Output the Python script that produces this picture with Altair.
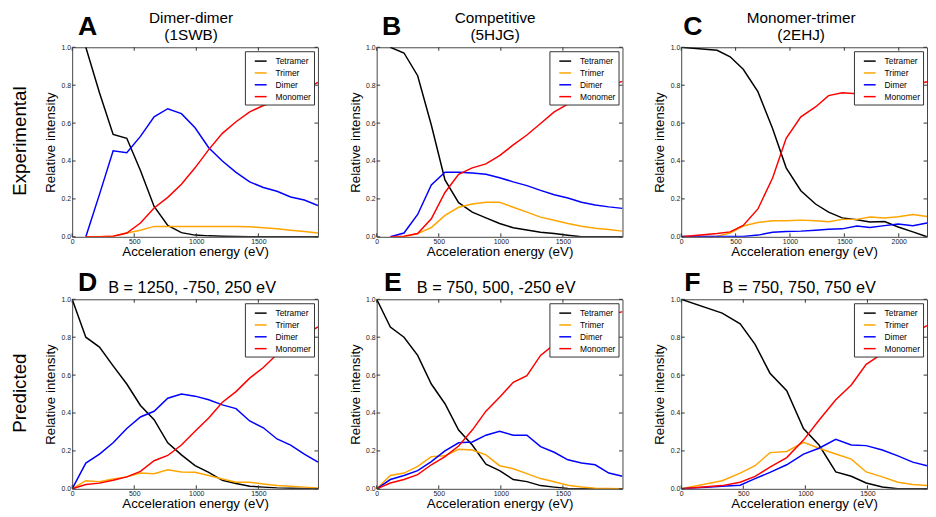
import altair as alt
import pandas as pd

# ---------------- data ----------------
SPECIES = ["Tetramer", "Trimer", "Dimer", "Monomer"]
COLORS = ["#000000", "#FFA500", "#0000FF", "#FF0000"]

LETTERS = ["A", "B", "C", "D", "E", "F"]
TITLES = [["Dimer-dimer", "(1SWB)"], ["Competitive", "(5HJG)"], ["Monomer-trimer", "(2EHJ)"],
          ["B = 1250, -750, 250 eV"], ["B = 750, 500, -250 eV"], ["B = 750, 750, 750 eV"]]
ROW_LABELS = ["Experimental", "Predicted"]
X_TITLE = "Acceleration energy (eV)"
Y_TITLE = "Relative intensity"

X_TICKS = [0, 500, 1000, 1500]
X_TICKS_C = [0, 500, 1000, 1500, 2000]
Y_TICKS = [0.0, 0.2, 0.4, 0.6, 0.8, 1.0]
X_MAX = [1980, 1980, 2260, 1980, 1980, 1980]

A_energy = [110, 220, 330, 440, 550, 660, 770, 880, 990, 1100, 1210, 1320, 1430, 1540, 1650, 1760, 1870, 1980]
A_tetramer = [1.0, 0.76, 0.54, 0.52, 0.35, 0.16, 0.06, 0.022, 0.009, 0.005, 0.003, 0.002, 0.001, 0.0, 0.0, 0.0, 0.0, 0.0]
A_trimer = [0.0, 0.0, 0.003, 0.02, 0.035, 0.055, 0.055, 0.054, 0.054, 0.054, 0.054, 0.054, 0.053, 0.048, 0.043, 0.035, 0.028, 0.02]
A_dimer = [0.0, 0.224, 0.454, 0.444, 0.53, 0.633, 0.676, 0.65, 0.575, 0.47, 0.40, 0.34, 0.29, 0.26, 0.24, 0.21, 0.194, 0.165]
A_monomer = [0.0, 0.0, 0.003, 0.02, 0.073, 0.152, 0.208, 0.277, 0.364, 0.46, 0.546, 0.607, 0.659, 0.693, 0.716, 0.745, 0.78, 0.815]

B_energy = [110, 220, 330, 440, 550, 660, 770, 880, 990, 1100, 1210, 1320, 1430, 1540, 1650, 1760, 1870, 1980]
B_tetramer = [1.0, 0.97, 0.85, 0.59, 0.30, 0.18, 0.13, 0.10, 0.07, 0.048, 0.036, 0.024, 0.017, 0.008, 0.0, 0.0, 0.0, 0.0]
B_trimer = [0.0, 0.0, 0.017, 0.049, 0.113, 0.156, 0.173, 0.182, 0.182, 0.156, 0.13, 0.104, 0.087, 0.07, 0.056, 0.045, 0.038, 0.03]
B_dimer = [0.0, 0.02, 0.118, 0.274, 0.341, 0.341, 0.337, 0.33, 0.312, 0.29, 0.27, 0.245, 0.222, 0.205, 0.182, 0.168, 0.158, 0.15]
B_monomer = [0.0, 0.003, 0.017, 0.095, 0.234, 0.33, 0.364, 0.385, 0.428, 0.485, 0.537, 0.598, 0.659, 0.70, 0.74, 0.77, 0.80, 0.82]

C_energy = [0, 330, 450, 570, 705, 840, 965, 1100, 1235, 1355, 1480, 1615, 1735, 1870, 1995, 2130, 2260]
C_tetramer = [1.0, 0.984, 0.95, 0.884, 0.766, 0.572, 0.364, 0.243, 0.173, 0.13, 0.10, 0.09, 0.078, 0.081, 0.052, 0.026, 0.0]
C_trimer = [0.0, 0.003, 0.02, 0.057, 0.075, 0.085, 0.085, 0.088, 0.085, 0.08, 0.092, 0.092, 0.104, 0.099, 0.106, 0.118, 0.107]
C_dimer = [0.002, 0.002, 0.002, 0.002, 0.009, 0.024, 0.028, 0.03, 0.035, 0.04, 0.042, 0.057, 0.049, 0.059, 0.068, 0.059, 0.073]
C_monomer = [0.0, 0.017, 0.026, 0.06, 0.147, 0.31, 0.52, 0.633, 0.685, 0.745, 0.76, 0.755, 0.765, 0.775, 0.79, 0.80, 0.818]

D_energy = [0, 110, 220, 330, 440, 550, 660, 770, 880, 990, 1100, 1210, 1320, 1430, 1540, 1650, 1760, 1870, 1980]
D_tetramer = [1.0, 0.80, 0.748, 0.649, 0.553, 0.44, 0.365, 0.243, 0.179, 0.122, 0.087, 0.045, 0.028, 0.014, 0.009, 0.005, 0.003, 0.002, 0.001]
D_trimer = [0.0, 0.043, 0.037, 0.052, 0.063, 0.083, 0.08, 0.10, 0.089, 0.087, 0.07, 0.052, 0.035, 0.035, 0.026, 0.017, 0.014, 0.009, 0.005]
D_dimer = [0.0, 0.136, 0.183, 0.243, 0.318, 0.379, 0.409, 0.478, 0.50, 0.489, 0.47, 0.443, 0.423, 0.358, 0.322, 0.263, 0.231, 0.183, 0.141]
D_monomer = [0.0, 0.023, 0.03, 0.045, 0.063, 0.092, 0.148, 0.176, 0.231, 0.304, 0.374, 0.457, 0.513, 0.584, 0.64, 0.71, 0.76, 0.81, 0.854]

E_energy = [0, 110, 220, 330, 440, 550, 660, 770, 880, 990, 1100, 1210, 1320, 1430, 1540, 1650, 1760, 1870, 1980]
E_tetramer = [1.0, 0.854, 0.80, 0.704, 0.553, 0.449, 0.31, 0.231, 0.13, 0.096, 0.049, 0.038, 0.017, 0.009, 0.002, 0.0, 0.0, 0.0, 0.0]
E_trimer = [0.0, 0.07, 0.083, 0.118, 0.17, 0.174, 0.209, 0.205, 0.179, 0.122, 0.106, 0.08, 0.054, 0.037, 0.019, 0.01, 0.003, 0.002, 0.001]
E_dimer = [0.0, 0.049, 0.07, 0.096, 0.144, 0.20, 0.243, 0.247, 0.283, 0.304, 0.283, 0.283, 0.223, 0.193, 0.153, 0.136, 0.127, 0.083, 0.066]
E_monomer = [0.0, 0.031, 0.049, 0.075, 0.127, 0.17, 0.226, 0.31, 0.41, 0.483, 0.562, 0.597, 0.704, 0.762, 0.81, 0.86, 0.89, 0.915, 0.935]

F_energy = [0, 330, 475, 595, 715, 850, 985, 1110, 1245, 1370, 1490, 1620, 1745, 1865, 1980]
F_tetramer = [1.0, 0.927, 0.871, 0.762, 0.61, 0.518, 0.318, 0.231, 0.089, 0.066, 0.031, 0.01, 0.0, 0.0, 0.0]
F_trimer = [0.0, 0.043, 0.083, 0.122, 0.191, 0.197, 0.245, 0.214, 0.184, 0.157, 0.089, 0.063, 0.035, 0.023, 0.017]
F_dimer = [0.0, 0.014, 0.019, 0.054, 0.087, 0.127, 0.183, 0.214, 0.261, 0.231, 0.228, 0.205, 0.174, 0.141, 0.122]
F_monomer = [0.0, 0.017, 0.035, 0.066, 0.115, 0.165, 0.257, 0.362, 0.47, 0.548, 0.657, 0.713, 0.77, 0.82, 0.861]

PANELS = [
    (A_energy, [A_tetramer, A_trimer, A_dimer, A_monomer]),
    (B_energy, [B_tetramer, B_trimer, B_dimer, B_monomer]),
    (C_energy, [C_tetramer, C_trimer, C_dimer, C_monomer]),
    (D_energy, [D_tetramer, D_trimer, D_dimer, D_monomer]),
    (E_energy, [E_tetramer, E_trimer, E_dimer, E_monomer]),
    (F_energy, [F_tetramer, F_trimer, F_dimer, F_monomer]),
]

# ---------------- layout / style ----------------
W, H = 249, 192
FONT = "Liberation Sans"
FRAME = "#444444"
LETTER_DX = [6, 5.5, 2, 6, 7.5, 3]
TITLE_DX = [-4, -4.5, -3, -3, -3.5, -5]


def text_layer(txt, x, y, size, weight="normal", align="left", angle=0,
               baseline="alphabetic", line_height=None):
    props = dict(font=FONT, fontSize=size, fontWeight=weight, align=align, baseline=baseline,
                 angle=angle, color="#000000", text=txt)
    if line_height is not None:
        props["lineHeight"] = line_height
    return alt.Chart(pd.DataFrame({"k": [0]})).mark_text(**props).encode(
        x=alt.value(x), y=alt.value(y))


def panel(i):
    energy, series = PANELS[i]
    rows = []
    for sp, vals in zip(SPECIES, series):
        for e, v in zip(energy, vals):
            rows.append({"x": e, "y": v, "species": sp})
    df = pd.DataFrame(rows)

    xticks = X_TICKS_C if i == 2 else X_TICKS
    x_enc = alt.X("x:Q", scale=alt.Scale(domain=[0, X_MAX[i]], nice=False, zero=False),
                  axis=alt.Axis(values=xticks, format="d", title=X_TITLE, labelFontSize=7,
                                labelPadding=1, titleFontSize=13.5, titlePadding=-0.5,
                                labelFlush=False))
    y_enc = alt.Y("y:Q", scale=alt.Scale(domain=[0, 1], nice=False),
                  axis=alt.Axis(values=Y_TICKS, format=".1f", title=Y_TITLE, labelFontSize=7,
                                labelPadding=1.5, titleFontSize=13.5, titlePadding=3.5,
                                labelFlush=False))

    lines = alt.Chart(df).mark_line(strokeWidth=1.5, clip=True).encode(
        x=x_enc, y=y_enc,
        color=alt.Color("species:N", scale=alt.Scale(domain=SPECIES, range=COLORS),
                        legend=alt.Legend(title=None, orient="top-right", offset=4, padding=3,
                                          strokeColor="#333333", fillColor="white",
                                          symbolType="stroke", symbolSize=144,
                                          symbolStrokeWidth=1.5, symbolOffset=6,
                                          labelFont=FONT, labelFontSize=8.5, labelOffset=8,
                                          rowPadding=0, labelColor="#000000", cornerRadius=0)),
    )

    xt = pd.DataFrame({"x": xticks})
    yt = pd.DataFrame({"y": Y_TICKS})
    tick_style = dict(color="#333333", strokeWidth=1)
    tb = alt.Chart(xt).mark_rule(**tick_style).encode(x=x_enc, y=alt.value(H), y2=alt.value(H - 3.5))
    tt = alt.Chart(xt).mark_rule(**tick_style).encode(x=x_enc, y=alt.value(0), y2=alt.value(3.5))
    tl = alt.Chart(yt).mark_rule(**tick_style).encode(y=y_enc, x=alt.value(0), x2=alt.value(3.5))
    tr = alt.Chart(yt).mark_rule(**tick_style).encode(y=y_enc, x=alt.value(W), x2=alt.value(W - 3.5))

    layers = [lines, tb, tt, tl, tr]
    top_row = i < 3
    cx = W / 2 + TITLE_DX[i]
    if top_row:
        layers.append(text_layer(TITLES[i], cx, -25, 15.5, align="center", line_height=17.8))
        layers.append(text_layer(LETTERS[i], LETTER_DX[i], -12.6, 27, weight="bold"))
    else:
        layers.append(text_layer(TITLES[i][0], cx, -6.6, 16.5, align="center"))
        layers.append(text_layer(LETTERS[i], LETTER_DX[i], -8.3, 27, weight="bold"))
    if i % 3 == 0:
        layers.append(text_layer(ROW_LABELS[i // 3], -53, H / 2 - 1, 19, align="center",
                                 angle=270, baseline="middle"))
    return alt.layer(*layers).properties(width=W, height=H)


def row(idx):
    return alt.hconcat(*[panel(i) for i in idx], spacing=28.5).resolve_scale(
        x="independent", y="independent", color="independent").resolve_legend(color="independent")


chart = alt.vconcat(row([0, 1, 2]), row([3, 4, 5]), spacing=10.3).resolve_scale(
    x="independent", y="independent", color="independent").resolve_legend(
    color="independent").properties(
    padding={"left": 2, "top": -1.5, "right": 0, "bottom": 0}
).configure_axis(
    labelFont=FONT, titleFont=FONT, labelColor="#222222", titleColor="#000000",
    titleFontWeight="normal", domain=False, ticks=False, tickSize=0, grid=False
).configure_view(stroke=FRAME, strokeWidth=1)

chart.save("out.html", embed_options={"renderer": "svg", "actions": False})
